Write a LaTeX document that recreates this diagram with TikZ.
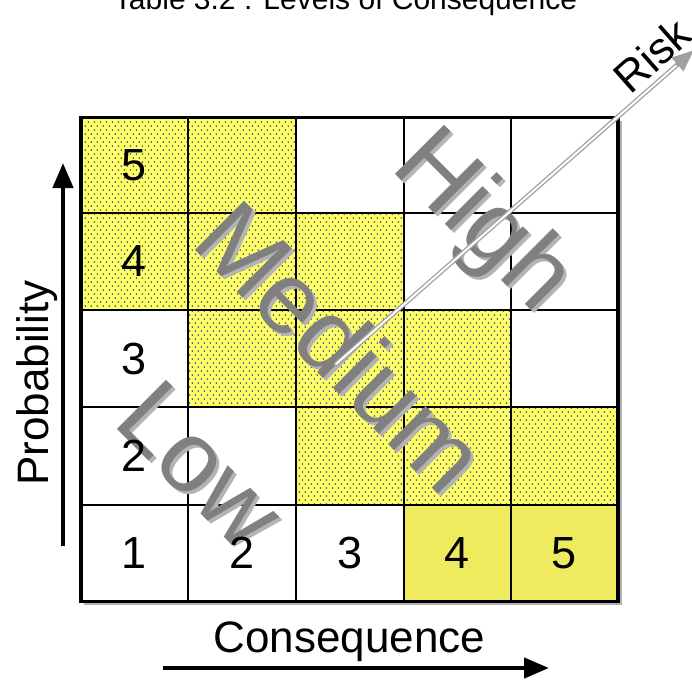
\documentclass[tikz,border=0pt]{standalone}
\usepackage{fontspec}
\setmainfont{Liberation Sans}
\usetikzlibrary{patterns,arrows.meta,calc}

\definecolor{cellyellow}{HTML}{FFFF66}
\definecolor{solidyellow}{HTML}{EEEC5E}
\definecolor{dotblue}{HTML}{50508A}
\definecolor{wordgray}{HTML}{808080}
\definecolor{shadowgray}{HTML}{B4B4B4}
\definecolor{riskgray}{HTML}{A0A0A0}

% staggered dot screen used for the shaded cells
\pgfdeclarepatternformonly{yellowdots}{\pgfqpoint{0pt}{0pt}}{\pgfqpoint{6.3pt}{8.4pt}}{\pgfqpoint{6.3pt}{8.4pt}}{%
  \pgfpathcircle{\pgfqpoint{1.6pt}{2.1pt}}{1pt}%
  \pgfpathcircle{\pgfqpoint{4.75pt}{6.3pt}}{1pt}%
  \pgfusepath{fill}}

\tikzset{
  dotcell/.style={pattern=yellowdots, pattern color=dotblue},
  gridline/.style={line width=1.8pt, black},
  frameline/.style={line width=3.3pt, black},
  digit/.style={font=\fontsize{45}{45}\selectfont, inner sep=0pt, anchor=center},
  axislabel/.style={font=\fontsize{44}{44}\selectfont, inner sep=0pt},
  axisarrow/.style={line width=4.5pt, -{Triangle[length=25pt,width=20pt]}},
  bigword/.style={font=\fontsize{101}{101}\selectfont, inner sep=0pt, rotate=-45, text=wordgray},
  bigshadow/.style={font=\fontsize{101}{101}\selectfont, inner sep=0pt, rotate=-45, text=shadowgray},
}

\begin{document}
\begin{tikzpicture}[x=1pt, y=-1pt]
\useasboundingbox (0,0) rectangle (692,681);

% title, partly above the page edge
\node[font=\fontsize{30}{30}\selectfont, anchor=base, inner sep=0pt] (title) at (345.5,9) {Table 3.2 : Levels of Consequence};

% grid corners: column edge i, row edge j (top to bottom)
\foreach \x [count=\i] in {81,188,296,404,511,618}
  \foreach \y [count=\j] in {117.5,213,310,407,505,601.5}
    \coordinate (g-\i-\j) at (\x,\y);

% frame shadow
\fill[gray!60] ($(g-1-6)+(3,0)$) rectangle ($(g-6-6)+(3,3.5)$);
\fill[gray!60] ($(g-6-1)+(0,3)$) rectangle ($(g-6-6)+(3.5,3)$);

% dotted cells
\foreach \c/\r in {1/1,2/1,1/2,2/2,3/2,2/3,3/3,4/3,3/4,4/4,5/4} {
  \pgfmathtruncatemacro\cc{\c+1}
  \pgfmathtruncatemacro\rr{\r+1}
  \fill[cellyellow] (g-\c-\r) rectangle (g-\cc-\rr);
  \fill[dotcell] (g-\c-\r) rectangle (g-\cc-\rr);
}
% plain yellow cells
\fill[solidyellow] (g-4-5) rectangle (g-6-6);

% inner grid lines
\foreach \i in {2,3,4,5}
  \draw[gridline] (g-\i-1) -- (g-\i-6);
\foreach \j in {2,3,4,5}
  \draw[gridline] (g-1-\j) -- (g-6-\j);
% outer frame
\draw[frameline] (g-1-1) rectangle (g-6-6);

% risk zone words with their shadows
\foreach \w/\px/\py in {High/481/223, Medium/342/346, Low/201/465} {
  \node[bigshadow] at (\px+3,\py+3) {\w};
  \node[bigword] (w-\w) at (\px,\py) {\w};
}

% risk direction arrow
\coordinate (risktail) at (336,364);
\coordinate (risktip) at (694,50);
\draw[riskgray, line width=4.6pt, line cap=round, -{Triangle[length=22pt,width=17pt]}] (risktail) -- (risktip);
\draw[white, line width=2pt, line cap=round, shorten >=24pt] (risktail) -- (risktip);
\node[axislabel, rotate=41.5] (risk) at (652,55) {Risk};

% probability labels
\foreach \r/\t in {1/5,2/4,3/3,4/2} {
  \pgfmathtruncatemacro\rr{\r+1}
  \node[digit] (p-\t) at ($(g-1-\r)!0.5!(g-2-\rr)$) {\t};
}
% consequence labels
\foreach \c in {1,2,3,4,5} {
  \pgfmathtruncatemacro\cc{\c+1}
  \node[digit] (c-\c) at ($(g-\c-5)!0.5!(g-\cc-6)$) {\c};
}

% axes
\coordinate (pstart) at (63,546);
\coordinate (pend) at (63,163);
\draw[axisarrow] (pstart) -- (pend);
\node[axislabel, rotate=90, anchor=base] (prob) at (48,383) {Probability};

\coordinate (cstart) at (163,668);
\coordinate (cend) at (549,668);
\draw[axisarrow] (cstart) -- (cend);
\node[axislabel, anchor=base] (cons) at (349.5,652) {Consequence};
\end{tikzpicture}
\end{document}
